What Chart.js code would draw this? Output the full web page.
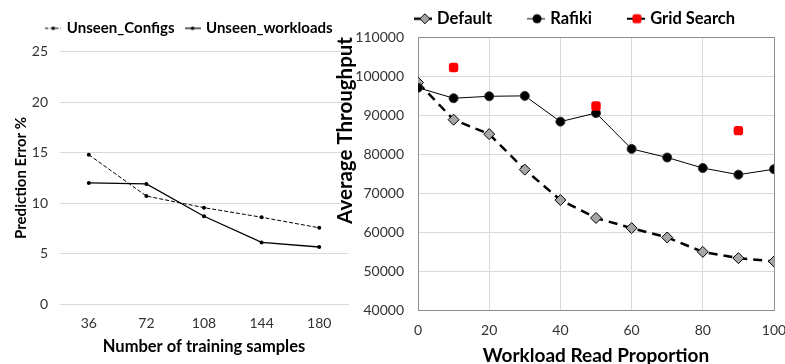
<!DOCTYPE html>
<html>
<head>
<meta charset="utf-8">
<script src="https://cdn.jsdelivr.net/npm/chart.js@4.4.0/dist/chart.umd.min.js"></script>
<style>
html, body { margin: 0; padding: 0; background: #fff; overflow: hidden; }
#wrap { position: relative; width: 785px; height: 364px; overflow: hidden; background: #fff; }
#leftBox { position: absolute; left: 0; top: 0; width: 380px; height: 364px; }
#rightBox { position: absolute; left: 330px; top: 0; width: 492px; height: 380px; }
</style>
</head>
<body>
<div id="wrap">
  <div id="leftBox"><canvas id="errChart"></canvas></div>
  <div id="rightBox"><canvas id="tputChart"></canvas></div>
</div>
<script>
// left chart: prediction error vs training samples
const samples = ['36', '72', '108', '144', '180'];
const unseenConfigs = [14.8, 10.7, 9.55, 8.6, 7.55];
const unseenWorkloads = [12.0, 11.9, 8.7, 6.1, 5.65];

// right chart: throughput vs read proportion
const readProp = [0, 10, 20, 30, 40, 50, 60, 70, 80, 90, 100];
const defaultTput = [98300, 88800, 85100, 76000, 68200, 63600, 61000, 58600, 54900, 53300, 52450];
const rafikiTput = [97000, 94300, 94800, 94900, 88300, 90500, 81300, 79100, 76400, 74700, 76100];
const gridProp = [10, 50, 90];
const gridTput = [102200, 92300, 86000];

const FONT = 'Lato';
const GRID = '#d9d9d9';
const BORDER = '#8f8f8f';

function legendIcon(w, h, draw) {
  var c = document.createElement('canvas');
  c.width = w; c.height = h;
  draw(c.getContext('2d'), w, h);
  return c;
}

function pinWidth(px) { return function (s) { s.width = px; }; }
function pinHeight(px) { return function (s) { s.height = px; }; }

function iconLegend(icons, pad, size) {
  return {
    position: 'top',
    labels: {
      usePointStyle: true,
      pointStyleWidth: 12,
      padding: pad,
      color: '#000',
      font: { family: FONT, size: size, weight: 'bold' },
      sort: function (a, b) { return a.datasetIndex - b.datasetIndex; },
      generateLabels: function (chart) {
        var items = Chart.defaults.plugins.legend.labels.generateLabels(chart);
        items.forEach(function (it) { it.pointStyle = icons[it.datasetIndex]; });
        return items;
      }
    }
  };
}

// ---- left chart ----
var iconConfigs = legendIcon(16, 8, function (g, w, h) {
  g.strokeStyle = '#000'; g.lineWidth = 1; g.setLineDash([3, 2]);
  g.beginPath(); g.moveTo(0, h / 2); g.lineTo(w, h / 2); g.stroke();
  g.fillStyle = '#000'; g.beginPath(); g.arc(w / 2, h / 2, 1.8, 0, Math.PI * 2); g.fill();
});
var iconWorkloads = legendIcon(16, 8, function (g, w, h) {
  g.strokeStyle = '#000'; g.lineWidth = 1.2;
  g.beginPath(); g.moveTo(0, h / 2); g.lineTo(w, h / 2); g.stroke();
  g.fillStyle = '#000'; g.beginPath(); g.arc(w / 2, h / 2, 1.8, 0, Math.PI * 2); g.fill();
});

new Chart(document.getElementById('errChart').getContext('2d'), {
  type: 'line',
  data: {
    labels: samples,
    datasets: [{
      label: 'Unseen_Configs',
      data: unseenConfigs,
      borderColor: '#000',
      borderWidth: 1,
      borderDash: [4, 2],
      pointRadius: 2,
      pointBackgroundColor: '#000',
      pointBorderWidth: 0,
      tension: 0
    }, {
      label: 'Unseen_workloads',
      data: unseenWorkloads,
      borderColor: '#000',
      borderWidth: 1.3,
      pointRadius: 2,
      pointBackgroundColor: '#000',
      pointBorderWidth: 0,
      tension: 0
    }]
  },
  options: {
    responsive: true,
    maintainAspectRatio: false,
    animation: false,
    layout: { padding: { top: 8.8, left: 0, right: 0, bottom: 0 } },
    plugins: {
      legend: iconLegend([iconConfigs, iconWorkloads], 12, 15),
      tooltip: { enabled: false }
    },
    scales: {
      x: {
        type: 'category',
        offset: true,
        afterFit: pinHeight(60),
        grid: { display: false, drawTicks: false },
        border: { display: true, color: GRID },
        ticks: { padding: 11, color: '#333', font: { family: FONT, size: 14 } },
        title: {
          display: true, text: 'Number of training samples', color: '#000',
          font: { family: FONT, size: 16.5, weight: 'bold' },
          padding: { top: 0, bottom: 7 }
        }
      },
      xTop: {
        type: 'linear', position: 'top', display: true, min: 0, max: 1,
        afterFit: pinHeight(6),
        grid: { display: false, drawTicks: false },
        border: { display: false },
        ticks: { display: false }
      },
      y: {
        min: 0, max: 25,
        afterFit: pinWidth(60),
        grid: { color: GRID, drawTicks: false },
        border: { display: false },
        ticks: { stepSize: 5, padding: 12, color: '#333', font: { family: FONT, size: 14 } },
        title: {
          display: true, text: 'Prediction Error %', color: '#000',
          font: { family: FONT, size: 15, weight: 'bold' },
          padding: { top: 12, bottom: 0 }
        }
      },
      yRight: {
        type: 'linear', position: 'right', display: true, min: 0, max: 1,
        afterFit: pinWidth(32),
        grid: { display: false, drawTicks: false },
        border: { display: false },
        ticks: { display: false }
      }
    }
  }
});

// ---- right chart ----
var iconDefault = legendIcon(18, 12, function (g, w, h) {
  g.strokeStyle = '#000'; g.lineWidth = 2.5;
  g.beginPath(); g.moveTo(0, h / 2); g.lineTo(w, h / 2); g.stroke();
  g.fillStyle = '#a6a6a6'; g.lineWidth = 1;
  g.beginPath(); g.moveTo(11, 1); g.lineTo(16, 6); g.lineTo(11, 11); g.lineTo(6, 6); g.closePath();
  g.fill(); g.stroke();
});
var iconRafiki = legendIcon(18, 12, function (g, w, h) {
  g.strokeStyle = '#000'; g.lineWidth = 1;
  g.beginPath(); g.moveTo(0, h / 2); g.lineTo(w, h / 2); g.stroke();
  g.fillStyle = '#000';
  g.beginPath(); g.arc(10, 6, 4.5, 0, Math.PI * 2); g.fill();
});
var iconGrid = legendIcon(18, 12, function (g, w, h) {
  g.strokeStyle = '#000'; g.lineWidth = 2;
  g.beginPath(); g.moveTo(0, h / 2); g.lineTo(w, h / 2); g.stroke();
  g.fillStyle = '#ff0000';
  g.beginPath(); g.roundRect(5.5, 1.5, 9, 9, 2.5); g.fill();
});

function pairs(xs, ys) {
  return xs.map(function (x, i) { return { x: x, y: ys[i] }; });
}

new Chart(document.getElementById('tputChart').getContext('2d'), {
  type: 'line',
  data: {
    datasets: [{
      label: 'Default',
      data: pairs(readProp, defaultTput),
      order: 3,
      borderColor: '#000',
      borderWidth: 2.5,
      borderDash: [9, 6],
      pointStyle: 'rectRot',
      pointRadius: 5.5,
      pointBackgroundColor: '#a6a6a6',
      pointBorderColor: '#000',
      pointBorderWidth: 1,
      tension: 0
    }, {
      label: 'Rafiki',
      data: pairs(readProp, rafikiTput),
      order: 2,
      borderColor: '#000',
      borderWidth: 1,
      pointStyle: 'circle',
      pointRadius: 4.5,
      pointBackgroundColor: '#000',
      pointBorderColor: '#333',
      pointBorderWidth: 1,
      tension: 0
    }, {
      label: 'Grid Search',
      data: pairs(gridProp, gridTput),
      order: 1,
      showLine: false,
      borderColor: '#ff0000',
      pointStyle: 'rectRounded',
      pointRadius: 5.5,
      pointBackgroundColor: '#ff0000',
      pointBorderColor: '#ff0000',
      pointBorderWidth: 0
    }]
  },
  options: {
    responsive: true,
    maintainAspectRatio: false,
    animation: false,
    layout: { padding: { top: -27.5, left: 0, right: 0, bottom: 0 } },
    plugins: {
      legend: iconLegend([iconDefault, iconRafiki, iconGrid], 38, 16.5),
      tooltip: { enabled: false }
    },
    scales: {
      x: {
        type: 'linear', min: 0, max: 100,
        afterFit: pinHeight(70),
        grid: { color: GRID, drawTicks: false },
        border: { display: true, color: BORDER },
        ticks: { stepSize: 20, padding: 12, color: '#333', font: { family: FONT, size: 14 },
          callback: function (v) { return String(v); } },
        title: {
          display: true, text: 'Workload Read Proportion', color: '#000',
          font: { family: FONT, size: 19, weight: 'bold' },
          padding: { top: 0, bottom: 12.6 }
        }
      },
      xTop: {
        type: 'linear', position: 'top', display: true, min: 0, max: 1,
        afterFit: pinHeight(0),
        grid: { display: false, drawTicks: false },
        border: { display: true, color: BORDER },
        ticks: { display: false }
      },
      y: {
        min: 40000, max: 110000,
        afterFit: pinWidth(88),
        grid: { color: GRID, drawTicks: false },
        border: { display: true, color: BORDER },
        ticks: { stepSize: 10000, padding: 14, color: '#333', font: { family: FONT, size: 14 },
          callback: function (v) { return String(v); } },
        title: {
          display: true, text: 'Average Throughput', color: '#000', align: 'end',
          font: { family: FONT, size: 20.5, weight: 'bold' },
          padding: { top: 3, bottom: 0 }
        }
      },
      yRight: {
        type: 'linear', position: 'right', display: true, min: 0, max: 1,
        afterFit: pinWidth(48),
        grid: { display: false, drawTicks: false },
        border: { display: true, color: BORDER },
        ticks: { display: false }
      }
    }
  }
});
</script>
</body>
</html>
